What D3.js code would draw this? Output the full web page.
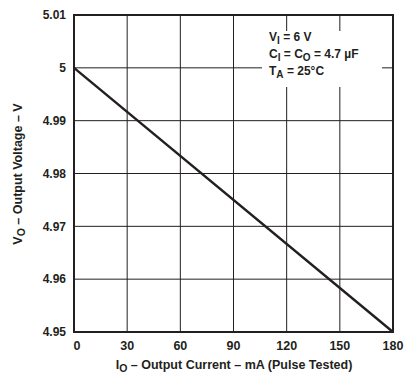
<!DOCTYPE html>
<html><head><meta charset="utf-8">
<script src="https://cdn.jsdelivr.net/npm/d3@7"></script>
<style>body{margin:0;background:#fff}svg{display:block}text{font-family:"Liberation Sans",Arial,sans-serif;font-weight:bold;fill:#231f20}</style>
</head><body>
<script>
const currentMA = [0, 180];
const outputV = [5.00, 4.95];
const xTicks = [0, 30, 60, 90, 120, 150, 180];
const yTicks = [4.95, 4.96, 4.97, 4.98, 4.99, 5, 5.01];

const W = 407, H = 376;
const m = {l: 74, r: 14, t: 15, b: 44};
const svg = d3.select("body").append("svg").attr("width", W).attr("height", H);
const x = d3.scaleLinear().domain([0, 180]).range([m.l, W - m.r]);
const y = d3.scaleLinear().domain([4.95, 5.01]).range([H - m.b, m.t]);
const ink = "#231f20";

// grid
svg.append("g").selectAll("line").data(xTicks.slice(1, -1)).join("line")
  .attr("x1", d => x(d)).attr("x2", d => x(d)).attr("y1", y(5.01)).attr("y2", y(4.95))
  .attr("stroke", ink).attr("stroke-width", 1);
svg.append("g").selectAll("line").data(yTicks.slice(1, -1)).join("line")
  .attr("y1", d => y(d)).attr("y2", d => y(d)).attr("x1", x(0)).attr("x2", x(180))
  .attr("stroke", ink).attr("stroke-width", 1);

// legend background
svg.append("rect").attr("x", 262).attr("y", 31).attr("width", 120).attr("height", 56).attr("fill", "#fff");

// data line
const line = d3.line().x(d => x(d[0])).y(d => y(d[1]));
svg.append("path").datum(currentMA.map((c, i) => [c, outputV[i]]))
  .attr("d", line).attr("fill", "none").attr("stroke", ink).attr("stroke-width", 2.4);

// frame
svg.append("rect").attr("x", x(0)).attr("y", y(5.01)).attr("width", x(180) - x(0)).attr("height", y(4.95) - y(5.01))
  .attr("fill", "none").attr("stroke", ink).attr("stroke-width", 2);

// axes labels
svg.append("g").selectAll("text").data(yTicks).join("text")
  .attr("x", x(0) - 8).attr("y", d => y(d)).attr("dy", "0.35em").attr("text-anchor", "end")
  .attr("font-size", 12).text(d => d3.format("")(d));
svg.append("g").selectAll("text").data(xTicks).join("text")
  .attr("x", d => x(d) + (d === 0 ? 3 : 0)).attr("y", H - m.b + 18).attr("text-anchor", "middle")
  .attr("font-size", 12.5).text(d => d);

// x title
const xt = svg.append("text").attr("x", 234).attr("y", 369).attr("text-anchor", "middle").attr("font-size", 12.5);
xt.append("tspan").text("I");
xt.append("tspan").attr("font-size", 10.5).attr("dy", 3).text("O");
xt.append("tspan").attr("dy", -3).text(" – Output Current – mA (Pulse Tested)");

// y title
const yt = svg.append("text").attr("transform", "translate(22,174) rotate(-90)").attr("text-anchor", "middle").attr("font-size", 12.5);
yt.append("tspan").text("V");
yt.append("tspan").attr("font-size", 10.5).attr("dy", 3).text("O");
yt.append("tspan").attr("dy", -3).text(" – Output Voltage – V");

// legend text
function legLine(yy, parts) {
  const t = svg.append("text").attr("x", 269).attr("y", yy).attr("font-size", 12);
  parts.forEach(p => {
    const s = t.append("tspan").text(p[0]);
    if (p[1] === "sub") s.attr("font-size", 10).attr("dy", 3);
    if (p[1] === "up") s.attr("dy", -3);
  });
}
legLine(41, [["V"], ["I", "sub"], [" = 6 V", "up"]]);
legLine(58, [["C"], ["I", "sub"], [" = C", "up"], ["O", "sub"], [" = 4.7 µF", "up"]]);
legLine(75, [["T"], ["A", "sub"], [" = 25°C", "up"]]);
</script>
</body></html>
